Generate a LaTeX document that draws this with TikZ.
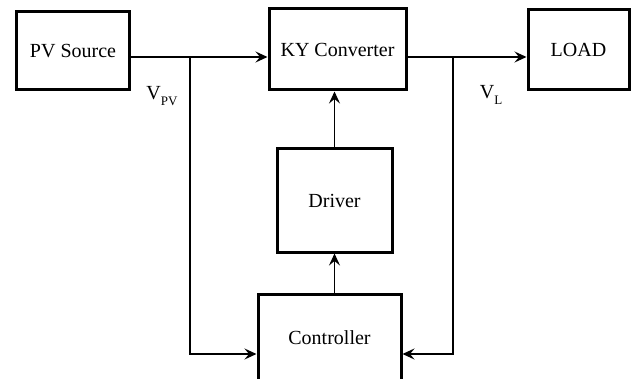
\documentclass[tikz,border=0pt]{standalone}
\usepackage{fontspec}
\setmainfont{Liberation Serif}
\usetikzlibrary{arrows.meta,calc,positioning}
\tikzset{block/.style={draw,line width=3pt,align=center,inner sep=0pt,font=\rmfamily\fontsize{20}{22}\selectfont},flow/.style={-{Stealth[length=12pt,width=11pt,inset=4.5pt]},line width=1.5pt},vlabel/.style={font=\rmfamily\fontsize{20}{22}\selectfont}}
\newcommand{\sublbl}[1]{\raisebox{-6pt}{\fontsize{13}{13}\selectfont #1}}

\begin{document}
\begin{tikzpicture}[x=1pt,y=-1pt]
        \useasboundingbox (0,0) rectangle (631,379);
        \node[block,minimum width=113,minimum height=78] (pv) at (73,51){PV Source};
        \node[block,minimum width=137,minimum height=81] (ky) at (337.5,49.5){KY Converter};
        \node[block,minimum width=101,minimum height=80] (load) at (578.5,50){LOAD};
        \node[block,minimum width=115,minimum height=103] (drv) at (334.5,200.5){Driver};
        \node[block,minimum width=143,minimum height=88] (ctrl) at (329.5,338){Controller};
        \coordinate (lvl) at (0,57);
        \coordinate (fb) at (0,354);
        \coordinate (jpv) at (190,57);
        \coordinate (jl) at (453,57);
        \draw[flow](pv.east|-lvl)--(ky.west|-lvl);
        \draw[flow](ky.east|-lvl)--(load.west|-lvl);
        \draw[flow](jpv)|-(ctrl.west|-fb);
        \draw[flow](jl)|-(ctrl.east|-fb);
        \draw[flow](drv.north)--(drv.north|-ky.south);
        \draw[flow](drv.south|-ctrl.north)--(drv.south);
        \node[vlabel] (vpv) at (162,96){V\sublbl{PV}};
        \node[vlabel] (vl) at (491,95){V\sublbl{L}};
      \end{tikzpicture}
\end{document}
